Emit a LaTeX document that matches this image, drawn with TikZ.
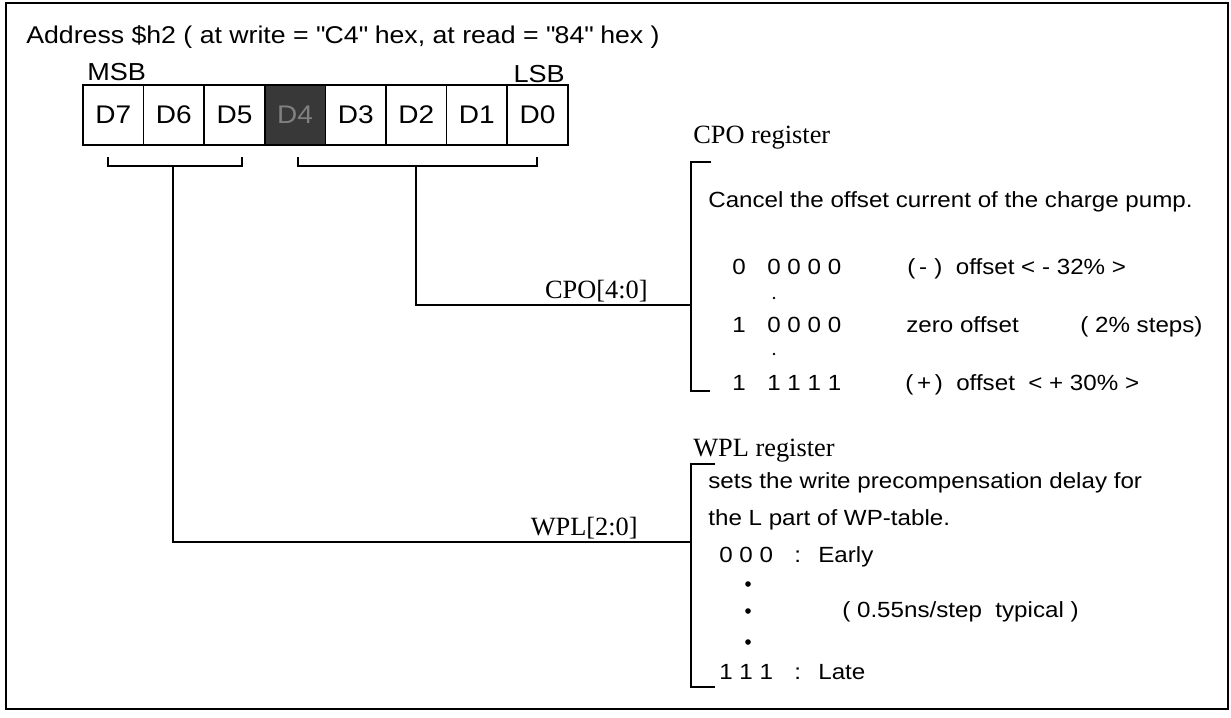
\documentclass[tikz,border=0pt]{standalone}
\usepackage{fontspec}
\setmainfont{Liberation Sans}[FakeStretch=1.1]
\newfontfamily\timesfont{Liberation Serif}
\usetikzlibrary{positioning}

\begin{document}
\begin{tikzpicture}[
    x=0.02cm, y=-0.02cm,
    wire/.style={line width=0.9pt},
    bitcell/.style={draw, line width=0.9pt, minimum width=1.212cm, minimum height=1.2cm,
      inner sep=0pt, outer sep=0pt, font=\fontsize{14.5}{17}\selectfont},
    rsvcell/.style={bitcell, fill=black!78, text=black!50},
    tag/.style={font=\fontsize{14}{16}\selectfont, inner sep=0pt},
    regname/.style={font=\timesfont\fontsize{15}{18}\selectfont, inner sep=0pt, anchor=base west},
    busname/.style={font=\timesfont\fontsize{15}{18}\selectfont, inner sep=0pt, anchor=base east},
    desc/.style={font=\fontsize{12.5}{15}\selectfont, inner sep=0pt, anchor=base west},
  ]
  \useasboundingbox (0,0) rectangle (1231,717);
  \draw[wire] (6,3) rectangle (1228,709);

  % Title
  \node[anchor=base west, inner sep=0pt, font=\fontsize{13.8}{17}\selectfont] (title) at (26,43)
    {Address \$h2 ( at write = \textquotedbl C4\textquotedbl{} hex, at read = \textquotedbl 84\textquotedbl{} hex )};

  % Bit cells D7 ... D0, D4 is reserved
  \foreach \bit/\sty [count=\i from 0] in {7/bitcell,6/bitcell,5/bitcell,4/rsvcell,3/bitcell,2/bitcell,1/bitcell,0/bitcell}
    \node[\sty] (b\bit) at ({113.3+60.6*\i},115) {D\bit};
  \node[tag, anchor=base west] (msb) at (87,80) {MSB};
  \node[tag, anchor=base east] (lsb) at (565,82) {LSB};

  % Field brackets below the cells
  \draw[wire] (108,157) -- (108,166) -- (242,166) -- (242,157);
  \coordinate (wplmid) at (173,166);
  \draw[wire] (298,157) -- (298,166) -- (537,166) -- (537,157);
  \coordinate (cpomid) at (416,166);

  % CPO register
  \node[regname] (cporeg) at (693,143) {CPO register};
  \draw[wire] (711,162) -- (691,162) -- (691,391) -- (710,391);
  \coordinate (cpoin) at (691,305);
  \draw[wire] (cpomid) |- (cpoin);
  \node[busname] (cpobus) at (648,298) {CPO[4:0]};

  \node[desc] (cpotxt) at (708,207) {Cancel the offset current of the charge pump.};
  \node[desc] (c0a) at (732,274) {0};
  \node[desc] (c0b) at (767,274) {0 0 0 0};
  \node[desc] (c0c) at (907,274) {(\,-\,\,)~ offset < - 32\% >};
  \fill (774,298) circle[radius=0.8pt];
  \node[desc] (c1a) at (732,332) {1};
  \node[desc] (c1b) at (767,332) {0 0 0 0};
  \node[desc] (c1c) at (906,332) {zero offset};
  \node[desc] (c1d) at (1080,332) {( 2\% steps)};
  \fill (774,354) circle[radius=0.8pt];
  \node[desc] (c2a) at (732,390) {1};
  \node[desc] (c2b) at (767,390) {1 1 1 1};
  \node[desc] (c2c) at (905,390) {(\,+\,)~ offset~ < + 30\% >};

  % WPL register
  \node[regname] (wplreg) at (693,456) {WPL register};
  \draw[wire] (715,464) -- (691,464) -- (691,687) -- (715,687);
  \coordinate (wplin) at (691,542);
  \draw[wire] (wplmid) |- (wplin);
  \node[busname] (wplbus) at (638,535) {WPL[2:0]};

  \node[desc] (wpltxt) at (708,488) {sets the write precompensation delay for};
  \node[desc] (wpltxt2) at (708,525) {the L part of WP-table.};
  \node[desc] (w0a) at (719,562) {0 0 0};
  \node[desc] (w0b) at (794,562) {:};
  \node[desc] (w0c) at (818,562) {Early};
  \foreach \yy in {584,611,642}
    \fill (748,\yy) circle[radius=1.6pt];
  \node[desc] (wstep) at (842,617) {( 0.55ns/step~ typical )};
  \node[desc] (w1a) at (719,679) {1 1 1};
  \node[desc] (w1b) at (794,679) {:};
  \node[desc] (w1c) at (818,679) {Late};
\end{tikzpicture}
\end{document}
